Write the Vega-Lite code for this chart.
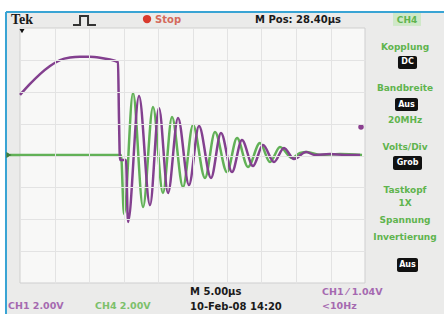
{
  "$schema": "https://vega.github.io/schema/vega-lite/v6.json",
  "width": 345,
  "height": 255,
  "autosize": {"type": "none"},
  "padding": {"left": 20, "top": 28, "right": 79, "bottom": 31},
  "background": "#ffffff",
  "config": {"view": {"stroke": null}, "font": "DejaVu Sans"},
  "datasets": {
    "screen": [{"t": -2.03, "t2": 61.5, "v": 9.0, "v2": -10.2}],
    "plot": [{"t": 0, "t2": 50, "v": -8, "v2": 8}],
    "frameH": [{"t": -2.03, "t2": 61.5, "v": 9.0}],
    "frameV": [{"t": -2.03, "v": 9.0, "v2": -10.2}],
    "purple": [
      {"t": 0.0, "v": 3.8}, {"t": 1.45, "v": 4.49}, {"t": 2.9, "v": 5.11}, {"t": 4.35, "v": 5.62},
      {"t": 5.8, "v": 5.99}, {"t": 7.25, "v": 6.15}, {"t": 8.7, "v": 6.2}, {"t": 10.14, "v": 6.2},
      {"t": 11.59, "v": 6.14}, {"t": 13.04, "v": 6.02}, {"t": 14.2, "v": 5.85}, {"t": 14.35, "v": 2.23},
      {"t": 14.49, "v": -0.28}, {"t": 15.36, "v": -0.28}, {"t": 15.65, "v": -4.17}, {"t": 17.25, "v": 3.73},
      {"t": 18.84, "v": -3.11}, {"t": 20.14, "v": 2.98}, {"t": 21.45, "v": -2.35}, {"t": 22.9, "v": 2.35},
      {"t": 24.49, "v": -1.85}, {"t": 25.94, "v": 1.85}, {"t": 27.68, "v": -1.41}, {"t": 29.13, "v": 1.41},
      {"t": 30.72, "v": -1.04}, {"t": 32.17, "v": 0.97}, {"t": 33.77, "v": -0.66}, {"t": 35.22, "v": 0.66},
      {"t": 36.81, "v": -0.41}, {"t": 38.26, "v": 0.47}, {"t": 39.71, "v": -0.22}, {"t": 41.45, "v": 0.22},
      {"t": 42.75, "v": 0.03}, {"t": 44.93, "v": 0.09}, {"t": 47.1, "v": 0.03}, {"t": 49.28, "v": 0.03}
    ],
    "green": [
      {"t": -1.45, "v": 0.03}, {"t": 14.64, "v": 0.03}, {"t": 15.07, "v": -3.67}, {"t": 16.38, "v": 3.92},
      {"t": 17.83, "v": -3.23}, {"t": 19.28, "v": 3.04}, {"t": 20.72, "v": -2.35}, {"t": 22.03, "v": 2.42},
      {"t": 23.62, "v": -1.98}, {"t": 25.07, "v": 1.91}, {"t": 26.81, "v": -1.41}, {"t": 28.26, "v": 1.47},
      {"t": 30.0, "v": -1.04}, {"t": 31.45, "v": 1.1}, {"t": 33.04, "v": -0.72}, {"t": 34.78, "v": 0.78},
      {"t": 36.23, "v": -0.41}, {"t": 37.68, "v": 0.53}, {"t": 39.42, "v": -0.16}, {"t": 40.58, "v": 0.16},
      {"t": 41.59, "v": 0.22}, {"t": 43.48, "v": 0.03}, {"t": 46.38, "v": 0.09}, {"t": 49.57, "v": 0.03}
    ],
    "icon": [
      {"i": 1, "t": 7.68, "v": 8.19}, {"i": 2, "t": 8.7, "v": 8.19}, {"i": 3, "t": 8.7, "v": 8.75},
      {"i": 4, "t": 9.86, "v": 8.75}, {"i": 5, "t": 9.86, "v": 8.19}, {"i": 6, "t": 11.01, "v": 8.19}
    ],
    "redDot": [{"t": 18.41, "v": 8.56}],
    "purpleDot": [{"t": 49.42, "v": 1.79}],
    "greenMarker": [{"t": -1.6, "v": 0.03}],
    "trigMarker": [{"t": 0.29, "v": 7.8}],
    "headerBox": [{"t": 54.06, "t2": 58.12, "v": 8.94, "v2": 8.13}],
    "blackBoxes": [
      {"t": 54.78, "t2": 57.54, "v": 6.24, "v2": 5.43},
      {"t": 54.35, "t2": 57.68, "v": 3.61, "v2": 2.79},
      {"t": 54.06, "t2": 58.26, "v": -0.03, "v2": -0.91},
      {"t": 54.64, "t2": 57.68, "v": -6.43, "v2": -7.31}
    ],
    "boxText": [
      {"t": 56.16, "v": 5.84, "label": "DC"},
      {"t": 56.01, "v": 3.2, "label": "Aus"},
      {"t": 56.16, "v": -0.47, "label": "Grob"},
      {"t": 56.16, "v": -6.87, "label": "Aus"}
    ],
    "menuText": [
      {"t": 56.09, "v": 8.53, "label": "CH4"},
      {"t": 55.8, "v": 6.81, "label": "Kopplung"},
      {"t": 55.8, "v": 4.24, "label": "Bandbreite"},
      {"t": 55.8, "v": 2.23, "label": "20MHz"},
      {"t": 55.8, "v": 0.53, "label": "Volts/Div"},
      {"t": 55.8, "v": -2.16, "label": "Tastkopf"},
      {"t": 55.8, "v": -2.98, "label": "1X"},
      {"t": 55.8, "v": -4.05, "label": "Spannung"},
      {"t": 55.8, "v": -5.11, "label": "Invertierung"}
    ],
    "sysText": [
      {"t": 34.06, "v": 8.5, "label": "M Pos: 28.40µs"},
      {"t": 24.64, "v": -8.56, "label": "M 5.00µs"},
      {"t": 24.64, "v": -9.51, "label": "10-Feb-08 14:20"}
    ],
    "tekText": [{"t": -1.3, "v": 8.5, "label": "Tek"}],
    "stopText": [{"t": 19.57, "v": 8.53, "label": "Stop"}],
    "ch1Text": [
      {"t": -1.74, "v": -9.44, "label": "CH1 2.00V"},
      {"t": 43.77, "v": -8.56, "label": "CH1 ⁄ 1.04V"},
      {"t": 43.77, "v": -9.44, "label": "<10Hz"}
    ],
    "ch4Text": [{"t": 10.87, "v": -9.44, "label": "CH4 2.00V"}]
  },
  "encoding": {
    "x": {"field": "t", "type": "quantitative", "scale": {"domain": [0, 50], "nice": false, "zero": false},
      "axis": {"title": null, "labels": false, "ticks": false, "domain": false, "grid": true, "gridColor": "#e3e3e3", "gridWidth": 1, "values": [5, 10, 15, 20, 25, 30, 35, 40, 45], "zindex": 1}},
    "y": {"field": "v", "type": "quantitative", "scale": {"domain": [-8, 8], "nice": false, "zero": false},
      "axis": {"title": null, "labels": false, "ticks": false, "domain": false, "grid": true, "gridColor": "#e3e3e3", "gridWidth": 1, "values": [-6, -4, -2, 0, 2, 4, 6], "zindex": 1}}
  },
  "layer": [
    {"data": {"name": "screen"}, "mark": {"type": "rect", "fill": "#ebebea"}, "encoding": {"x2": {"field": "t2"}, "y2": {"field": "v2"}}},
    {"data": {"name": "plot"}, "mark": {"type": "rect", "fill": "#f8f8f7", "stroke": "#cfcfcf", "strokeWidth": 1}, "encoding": {"x2": {"field": "t2"}, "y2": {"field": "v2"}}},
    {"data": {"name": "frameH"}, "mark": {"type": "rule", "color": "#39a4d4", "strokeWidth": 2}, "encoding": {"x2": {"field": "t2"}}},
    {"data": {"name": "frameV"}, "mark": {"type": "rule", "color": "#39a4d4", "strokeWidth": 2}, "encoding": {"y2": {"field": "v2"}}},
    {"data": {"name": "green"}, "mark": {"type": "line", "color": "#62b157", "strokeWidth": 2.5, "interpolate": "monotone"}, "encoding": {}},
    {"data": {"name": "purple"}, "mark": {"type": "line", "color": "#83408f", "strokeWidth": 2.5, "interpolate": "monotone"}, "encoding": {}},
    {"data": {"name": "icon"}, "mark": {"type": "line", "color": "#333333", "strokeWidth": 2}, "encoding": {"order": {"field": "i"}}},
    {"data": {"name": "redDot"}, "mark": {"type": "point", "filled": true, "color": "#d93a2e", "size": 70, "opacity": 1}, "encoding": {}},
    {"data": {"name": "purpleDot"}, "mark": {"type": "point", "filled": true, "color": "#8a3f8f", "size": 30, "opacity": 1}, "encoding": {}},
    {"data": {"name": "greenMarker"}, "mark": {"type": "point", "shape": "triangle-right", "filled": true, "color": "#3f7d3a", "size": 35, "opacity": 1}, "encoding": {}},
    {"data": {"name": "trigMarker"}, "mark": {"type": "point", "shape": "triangle-down", "filled": true, "color": "#111111", "size": 25, "opacity": 1}, "encoding": {}},
    {"data": {"name": "headerBox"}, "mark": {"type": "rect", "fill": "#cfe8c8"}, "encoding": {"x2": {"field": "t2"}, "y2": {"field": "v2"}}},
    {"data": {"name": "blackBoxes"}, "mark": {"type": "rect", "fill": "#111111", "cornerRadius": 2}, "encoding": {"x2": {"field": "t2"}, "y2": {"field": "v2"}}},
    {"data": {"name": "boxText"}, "mark": {"type": "text", "color": "#ffffff", "fontSize": 8, "fontWeight": "bold", "align": "center", "baseline": "middle"}, "encoding": {"text": {"field": "label"}}},
    {"data": {"name": "menuText"}, "mark": {"type": "text", "color": "#5fb44e", "fontSize": 9, "fontWeight": "bold", "align": "center", "baseline": "middle"}, "encoding": {"text": {"field": "label"}}},
    {"data": {"name": "sysText"}, "mark": {"type": "text", "color": "#1a1a1a", "fontSize": 10, "fontWeight": "bold", "align": "left", "baseline": "middle"}, "encoding": {"text": {"field": "label"}}},
    {"data": {"name": "tekText"}, "mark": {"type": "text", "color": "#1a1a1a", "font": "Liberation Serif", "fontSize": 14, "fontWeight": "bold", "align": "left", "baseline": "middle"}, "encoding": {"text": {"field": "label"}}},
    {"data": {"name": "stopText"}, "mark": {"type": "text", "color": "#d46a5c", "fontSize": 10, "fontWeight": "bold", "align": "left", "baseline": "middle"}, "encoding": {"text": {"field": "label"}}},
    {"data": {"name": "ch1Text"}, "mark": {"type": "text", "color": "#a569b0", "fontSize": 9.5, "fontWeight": "bold", "align": "left", "baseline": "middle"}, "encoding": {"text": {"field": "label"}}},
    {"data": {"name": "ch4Text"}, "mark": {"type": "text", "color": "#7cc06b", "fontSize": 9.5, "fontWeight": "bold", "align": "left", "baseline": "middle"}, "encoding": {"text": {"field": "label"}}}
  ]
}
